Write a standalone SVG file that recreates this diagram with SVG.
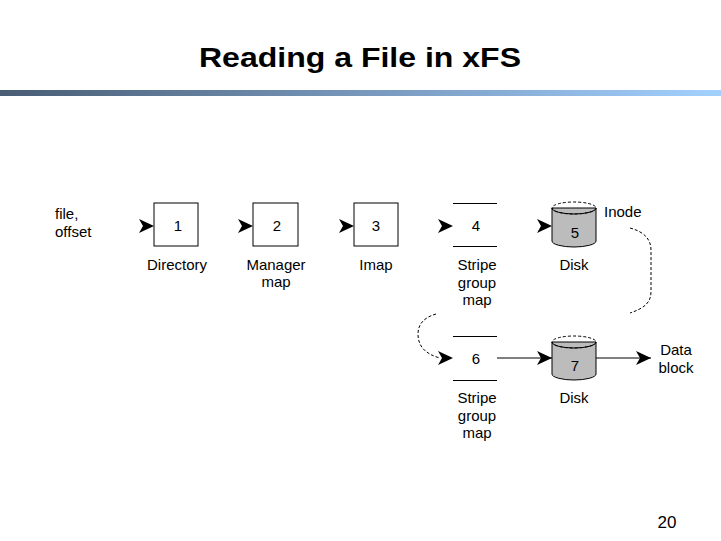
<svg xmlns="http://www.w3.org/2000/svg" xmlns:xlink="http://www.w3.org/1999/xlink" width="721" height="541" viewBox="0 0 721 541">
<defs>
<linearGradient id="bar" x1="0" y1="0" x2="1" y2="0">
<stop offset="0" stop-color="#495d74"/>
<stop offset="0.5" stop-color="#7797bb"/>
<stop offset="1" stop-color="#a3d1ff"/>
</linearGradient>
<path id="ah" d="M0,0 L-15,-7 L-11,0 L-15,7 Z" fill="#000"/>
<marker id="arr" viewBox="-16 -8 17 16" refX="0" refY="0" markerWidth="17" markerHeight="16" markerUnits="userSpaceOnUse" orient="auto">
<path d="M0,0 L-15,-7 L-11,0 L-15,7 Z" fill="#000"/>
</marker>
<style>
.t{font-family:"Liberation Sans",Arial,sans-serif;font-size:15px;fill:#000;text-anchor:middle}
.tl{font-family:"Liberation Sans",Arial,sans-serif;font-size:15px;fill:#000}
.box{fill:#fff;stroke:#000;stroke-width:1}
.ln{stroke:#000;stroke-width:1;fill:none}
.dash{stroke:#000;stroke-width:1;fill:none;stroke-dasharray:3 2}
.disk{fill:#bcbcbc;stroke:#000;stroke-width:1}
</style>
</defs>
<rect width="721" height="541" fill="#fff"/>
<text x="360" y="67" font-family="Liberation Sans,Arial,sans-serif" font-size="28" font-weight="bold" text-anchor="middle" textLength="322" lengthAdjust="spacingAndGlyphs">Reading a File in xFS</text>
<rect x="0" y="90" width="721" height="6" fill="url(#bar)"/>

<g id="input">
<text class="tl" x="55" y="219">file,</text>
<text class="tl" x="55" y="237">offset</text>
</g>

<g id="n1">
<rect class="box" x="154" y="203" width="44" height="43"/>
<text class="t" x="178" y="231">1</text>
<text class="t" x="177" y="270">Directory</text>
</g>
<g id="n2">
<rect class="box" x="253" y="203" width="45" height="43"/>
<text class="t" x="277" y="231">2</text>
<text class="t" x="276" y="270">Manager</text>
<text class="t" x="276" y="287">map</text>
</g>
<g id="n3">
<rect class="box" x="354" y="203" width="44" height="43"/>
<text class="t" x="376" y="231">3</text>
<text class="t" x="376" y="270">Imap</text>
</g>
<g id="n4">
<line class="ln" x1="453" y1="203.5" x2="497" y2="203.5"/>
<line class="ln" x1="453" y1="246.5" x2="497" y2="246.5"/>
<text class="t" x="476" y="231">4</text>
<text class="t" x="477" y="270">Stripe</text>
<text class="t" x="477" y="288">group</text>
<text class="t" x="477" y="305">map</text>
</g>
<g id="n5">
<path class="disk" d="M552,208 L552,241 A22,6 0 0 0 596,241 L596,208 Z"/>
<ellipse cx="574" cy="208" rx="22" ry="6" fill="#fff" class="dash"/>
<path class="ln" d="M552,208 A22,6 0 0 0 596,208"/>
<text class="t" x="575" y="238">5</text>
<text class="t" x="574" y="270">Disk</text>
<text class="tl" x="604" y="217">Inode</text>
</g>
<g id="n6">
<line class="ln" x1="453" y1="336.5" x2="497" y2="336.5"/>
<line class="ln" x1="453" y1="380.5" x2="497" y2="380.5"/>
<text class="t" x="476" y="364">6</text>
<text class="t" x="477" y="403">Stripe</text>
<text class="t" x="477" y="421">group</text>
<text class="t" x="477" y="438">map</text>
</g>
<g id="n7">
<path class="disk" d="M552,342 L552,374 A22,6 0 0 0 596,374 L596,342 Z"/>
<ellipse cx="574" cy="342" rx="22" ry="6" fill="#fff" class="dash"/>
<path class="ln" d="M552,342 A22,6 0 0 0 596,342"/>
<text class="t" x="575" y="371">7</text>
<text class="t" x="574" y="403">Disk</text>
</g>
<g id="out">
<text class="t" x="676" y="355">Data</text>
<text class="t" x="676" y="373">block</text>
</g>

<g id="connectors">
<use xlink:href="#ah" x="154" y="226"/>
<use xlink:href="#ah" x="253" y="226"/>
<use xlink:href="#ah" x="354" y="226"/>
<use xlink:href="#ah" x="453" y="226"/>
<use xlink:href="#ah" x="552" y="226"/>
<path class="dash" d="M630,228 C645,232 651,240 651,250 L651,292 C651,302 645,308 630,313"/>
<path class="dash" d="M436,314 C422,318 418,326 418,334 C418,346 425,354 440,358"/>
<use xlink:href="#ah" x="453" y="358"/>
<line class="ln" x1="497" y1="358" x2="552" y2="358" marker-end="url(#arr)"/>
<line class="ln" x1="596" y1="358" x2="651" y2="358" marker-end="url(#arr)"/>
</g>

<text x="667" y="528" font-family="Liberation Sans,Arial,sans-serif" font-size="17" text-anchor="middle">20</text>
</svg>
